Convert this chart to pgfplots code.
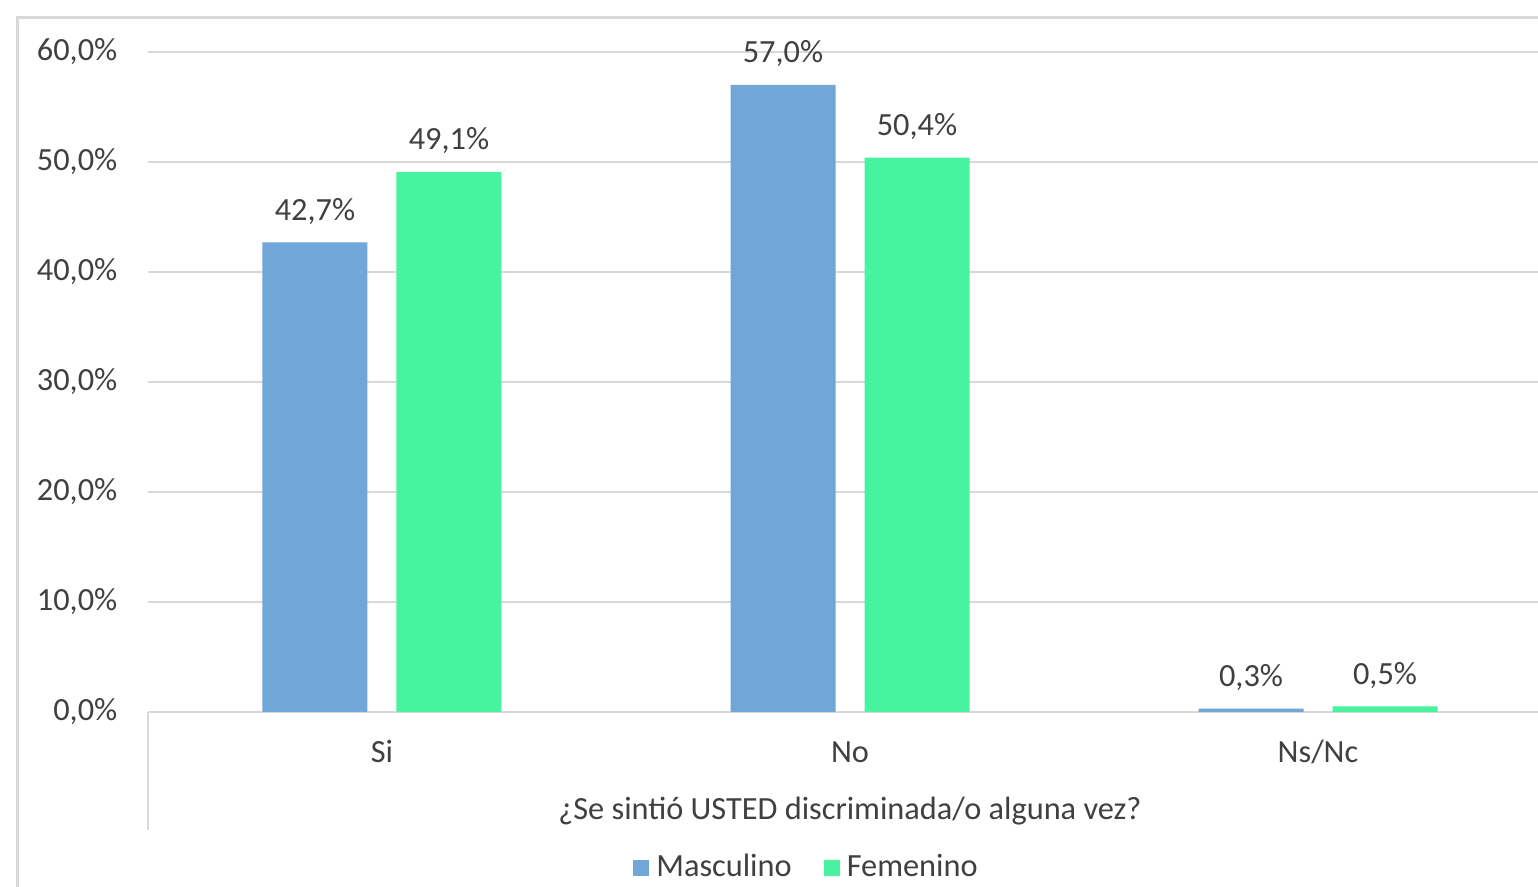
\documentclass[border=0pt]{standalone}
\usepackage{fontspec}
\setmainfont{Carlito}
\usepackage{pgfplots}
\pgfplotsset{compat=1.18}
\definecolor{masc}{HTML}{70A6D8}
\definecolor{fem}{HTML}{48F3A0}
\definecolor{txt}{HTML}{404040}
\definecolor{grd}{HTML}{D9D9D9}
\newcommand\cf{\fontsize{9.2pt}{11pt}\selectfont}

\begin{document}
\begin{tikzpicture}
\useasboundingbox (0,0) rectangle (153.8mm,88.7mm);
\clip (0,0) rectangle (153.8mm,88.7mm);
\fill[white] (0,0) rectangle (153.8mm,88.7mm);
% chart frame, cut at the right and bottom
\draw[grd, line width=0.3mm] (1.7mm,-5mm) -- (1.7mm,86.9mm) -- (160mm,86.9mm);
% category axis divider
\draw[grd, line width=0.25mm] (14.8mm,17.5mm) -- (14.8mm,5.7mm);
\begin{axis}[
  at={(14.8mm,17.5mm)}, anchor=south west,
  scale only axis, width=140.4mm, height=66mm,
  xmin=-0.5, xmax=2.5, ymin=0, ymax=60,
  ybar=2.9mm, bar width=10.5mm,
  axis line style={draw=none}, major tick length=0pt,
  ymajorgrids, grid style={grd, line width=0.25mm},
  ytick={0,10,...,60},
  yticklabel={\pgfmathprintnumber[fixed,fixed zerofill,precision=1,use comma,assume math mode=true]{\tick}\%},
  yticklabel style={anchor=east, inner sep=0pt, xshift=-3mm, font=\cf, text=txt},
  xtick={0,1,2}, xticklabels={Si,No,Ns/Nc},
  xticklabel style={anchor=base, inner sep=0pt, yshift=-5.1mm, font=\cf, text=txt},
  xlabel={¿Se sintió USTED discriminada/o alguna vez?},
  xlabel style={at={(axis description cs:0.5,0)}, anchor=base, inner sep=0pt, yshift=-10.8mm, font=\cf, text=txt},
  nodes near coords={\pgfmathprintnumber[fixed,fixed zerofill,precision=1,use comma,assume math mode=true]{\pgfplotspointmeta}\%},
  nodes near coords style={anchor=base, inner sep=0pt, yshift=2.2mm, font=\cf, text=txt},
  legend columns=2,
  legend style={at={(axis description cs:0.4708,-0.2364)}, anchor=center, draw=none, fill=none,
    font=\cf, text=txt, inner sep=0pt,
    /tikz/every even column/.append style={column sep=2.5mm}},
  legend image code/.code={\fill[#1] (0mm,-0.8mm) rectangle (1.6mm,0.8mm);},
  clip=false,
]
\addplot[fill=masc, draw=none] coordinates {(0,42.7) (1,57.0) (2,0.3)};
\addlegendentry{Masculino}
\addplot[fill=fem, draw=none] coordinates {(0,49.1) (1,50.4) (2,0.5)};
\addlegendentry{Femenino}
\end{axis}
\end{tikzpicture}
\end{document}
